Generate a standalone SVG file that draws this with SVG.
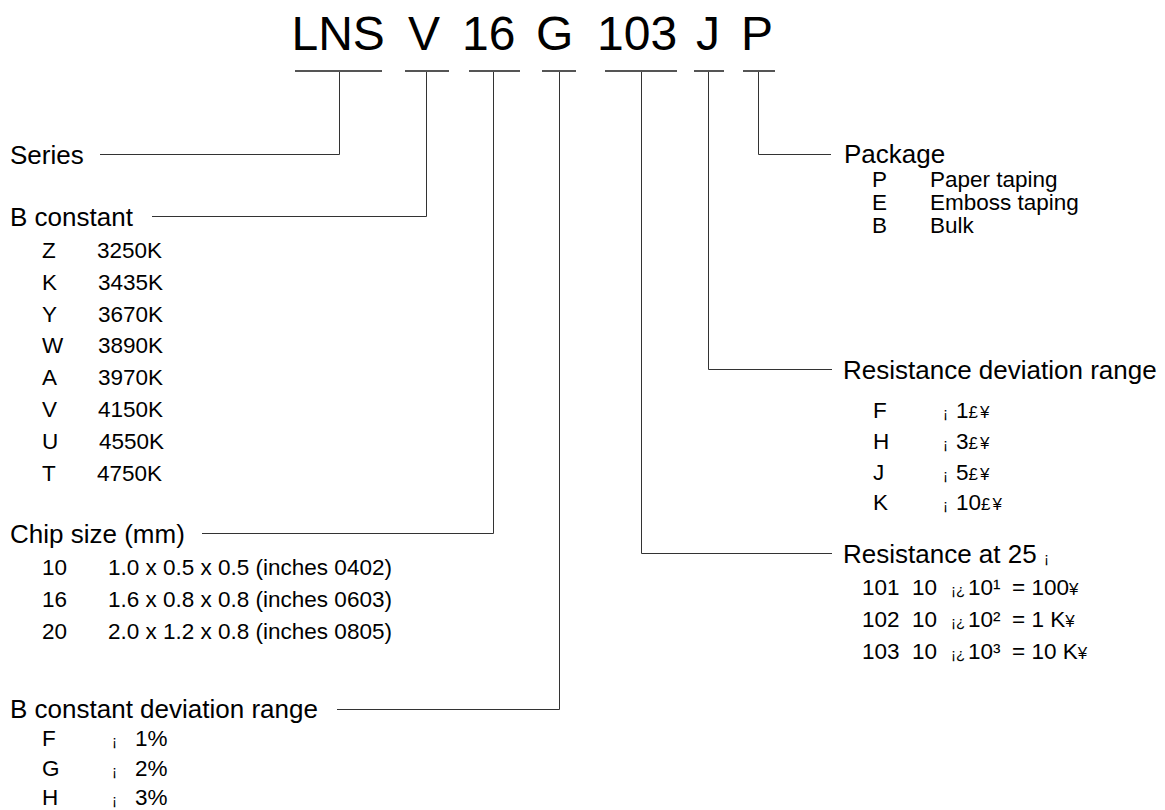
<svg xmlns="http://www.w3.org/2000/svg" width="1165" height="810" viewBox="0 0 1165 810">
<style>
text{font-family:"Liberation Sans",Arial,sans-serif;fill:#000}
.t{font-size:48px}
.h{font-size:26px}
.i{font-size:22.5px}
.s{font-size:15px}
.y{font-size:17px;letter-spacing:2px}
.ul{stroke:#555;stroke-width:2;fill:none}
.c{stroke:#333;stroke-width:1;fill:none}
</style>
<rect width="1165" height="810" fill="#fff"/>
<g id="title">
<text class="t" x="291.5" y="50">LNS</text>
<text class="t" x="408" y="50">V</text>
<text class="t" x="462" y="50">16</text>
<text class="t" x="536" y="50">G</text>
<text class="t" x="597" y="50">103</text>
<text class="t" x="696" y="50">J</text>
<text class="t" x="741" y="50">P</text>
</g>
<g id="connectors">
<path class="ul" d="M295 71H382M405 71H449M469 71H520M542 71H576M605 71H677M694 71H724M743 71H775"/>
<path class="c" d="M339.5 72V154.5H100"/>
<path class="c" d="M426.5 72V216.5H152"/>
<path class="c" d="M493.5 72V533.5H202"/>
<path class="c" d="M559.5 72V709.5H337"/>
<path class="c" d="M641.5 72V553.5H832"/>
<path class="c" d="M708.5 72V369.5H832"/>
<path class="c" d="M758.5 72V154.5H831"/>
</g>
<g id="series">
<text class="h" x="10" y="164">Series</text>
</g>
<g id="b-constant">
<text class="h" x="10" y="226">B constant</text>
<text class="i" x="42" y="258">Z</text><text class="i" x="97" y="258">3250K</text>
<text class="i" x="42" y="290">K</text><text class="i" x="98" y="290">3435K</text>
<text class="i" x="42" y="322">Y</text><text class="i" x="98" y="322">3670K</text>
<text class="i" x="42" y="353">W</text><text class="i" x="98" y="353">3890K</text>
<text class="i" x="42" y="385">A</text><text class="i" x="98" y="385">3970K</text>
<text class="i" x="42" y="417">V</text><text class="i" x="98" y="417">4150K</text>
<text class="i" x="42" y="449">U</text><text class="i" x="99" y="449">4550K</text>
<text class="i" x="42" y="481">T</text><text class="i" x="97" y="481">4750K</text>
</g>
<g id="chip-size">
<text class="h" x="10" y="543">Chip size (mm)</text>
<text class="i" x="42" y="575">10</text><text class="i" x="108" y="575">1.0 x 0.5 x 0.5 (inches 0402)</text>
<text class="i" x="42" y="607">16</text><text class="i" x="108" y="607">1.6 x 0.8 x 0.8 (inches 0603)</text>
<text class="i" x="42" y="639">20</text><text class="i" x="108" y="639">2.0 x 1.2 x 0.8 (inches 0805)</text>
</g>
<g id="b-constant-deviation">
<text class="h" x="10" y="718">B constant deviation range</text>
<text class="i" x="42" y="746">F</text><text class="s" x="112" y="746">¡</text><text class="i" x="135" y="746">1%</text>
<text class="i" x="42" y="776">G</text><text class="s" x="112" y="776">¡</text><text class="i" x="135" y="776">2%</text>
<text class="i" x="42" y="805">H</text><text class="s" x="112" y="805">¡</text><text class="i" x="135" y="805">3%</text>
</g>
<g id="package">
<text class="h" x="844" y="163">Package</text>
<text class="i" x="872" y="187">P</text><text class="i" x="930" y="187">Paper taping</text>
<text class="i" x="872" y="210">E</text><text class="i" x="930" y="210">Emboss taping</text>
<text class="i" x="872" y="233">B</text><text class="i" x="930" y="233">Bulk</text>
</g>
<g id="resistance-deviation">
<text class="h" x="843" y="379">Resistance deviation range</text>
<text class="i" x="873" y="418">F</text><text class="i" x="943" y="418"><tspan class="s">¡</tspan><tspan x="956">1</tspan><tspan class="y">£¥</tspan></text>
<text class="i" x="873" y="449">H</text><text class="i" x="943" y="449"><tspan class="s">¡</tspan><tspan x="956">3</tspan><tspan class="y">£¥</tspan></text>
<text class="i" x="873" y="480">J</text><text class="i" x="943" y="480"><tspan class="s">¡</tspan><tspan x="956">5</tspan><tspan class="y">£¥</tspan></text>
<text class="i" x="873" y="510">K</text><text class="i" x="943" y="510"><tspan class="s">¡</tspan><tspan x="956">10</tspan><tspan class="y">£¥</tspan></text>
</g>
<g id="resistance-25">
<text class="h" x="843" y="563">Resistance at 25 <tspan class="s">¡</tspan></text>
<text class="i" x="862" y="595">101</text><text class="i" y="595"><tspan x="912">10</tspan><tspan class="s" x="951">¡¿</tspan><tspan x="968">10¹</tspan><tspan x="1012">= 100</tspan><tspan class="y">¥</tspan></text>
<text class="i" x="862" y="627">102</text><text class="i" y="627"><tspan x="912">10</tspan><tspan class="s" x="951">¡¿</tspan><tspan x="968">10²</tspan><tspan x="1012">= 1  K</tspan><tspan class="y">¥</tspan></text>
<text class="i" x="862" y="659">103</text><text class="i" y="659"><tspan x="912">10</tspan><tspan class="s" x="951">¡¿</tspan><tspan x="968">10³</tspan><tspan x="1012">= 10 K</tspan><tspan class="y">¥</tspan></text>
</g>
</svg>
